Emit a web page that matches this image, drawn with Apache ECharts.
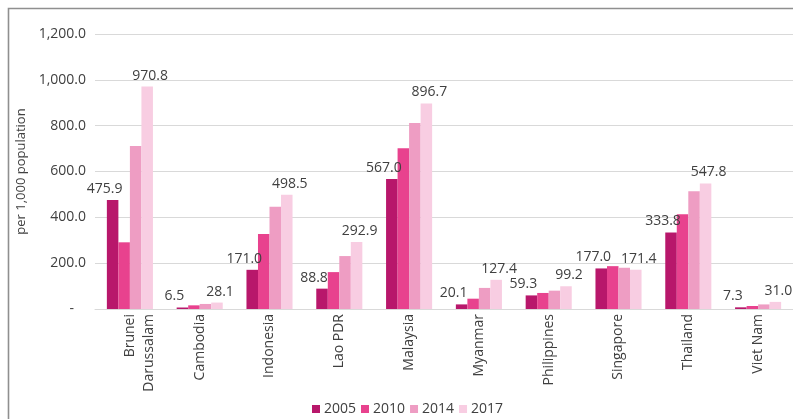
<!DOCTYPE html>
<html>
<head>
<meta charset="utf-8">
<title>Mobile subscriptions per 1,000 population</title>
<script src="https://cdn.jsdelivr.net/npm/echarts@6/dist/echarts.min.js"></script>
<style>
  html, body { margin: 0; padding: 0; background: #ffffff; }
  #chart { width: 793px; height: 419px; }
</style>
</head>
<body>
<div id="chart"></div>
<script>
// Countries along the x axis
const countries = ['Brunei Darussalam', 'Cambodia', 'Indonesia', 'Lao PDR', 'Malaysia',
                   'Myanmar', 'Philippines', 'Singapore', 'Thailand', 'Viet Nam'];

// Values per 1,000 population, one array per year
const years = ['2005', '2010', '2014', '2017'];
const v2005 = [475.9, 6.5, 171.0, 88.8, 567.0, 20.1, 59.3, 177.0, 333.8, 7.3];
const v2010 = [291, 16, 327, 161, 702, 45, 70, 187, 414, 13];
const v2014 = [711, 22, 446, 231, 812, 92, 80, 180, 514, 20];
const v2017 = [970.8, 28.1, 498.5, 292.9, 896.7, 127.4, 99.2, 171.4, 547.8, 31.0];

// Y axis ticks
const yMin = 0, yMax = 1200, yStep = 200;

const colors = ['#b8176b', '#e8428e', '#ee9dc3', '#f8cde2'];
const font = 'Open Sans';
const textColor = '#404040';

function fmtNumber(v) {
  return v.toLocaleString('en-US', { minimumFractionDigits: 1, maximumFractionDigits: 1 });
}

// Long category names wrap onto two lines; a leading blank line keeps the first line on the tick
function wrapCategory(name) {
  if (name.length > 12 && name.indexOf(' ') > 0) {
    return '\n' + name.replace(' ', '\n');
  }
  return name;
}

const valueSeries = [v2005, v2010, v2014, v2017];
const labelled = { 0: [-8, 0], 3: [3, 0] };

const series = valueSeries.map(function (vals, i) {
  const s = {
    name: years[i],
    type: 'bar',
    data: vals,
    barGap: '0%',
    barCategoryGap: '34%',
    itemStyle: { color: colors[i] },
    emphasis: { disabled: true }
  };
  if (labelled[i]) {
    s.label = {
      show: true,
      position: 'top',
      distance: 4,
      offset: labelled[i],
      fontFamily: font,
      fontSize: 14,
      color: textColor,
      formatter: function (p) { return fmtNumber(p.value); }
    };
  }
  return s;
});

const chart = echarts.init(document.getElementById('chart'), null, { renderer: 'canvas' });
chart.setOption({
  animation: false,
  color: colors,
  textStyle: { fontFamily: font },
  graphic: [{
    type: 'rect',
    left: 6, top: 6,
    shape: { x: 0, y: 0, width: 900, height: 500 },
    style: { fill: 'none', stroke: '#8f8f8f', lineWidth: 1.6 },
    silent: true,
    z: -10
  }],
  grid: { left: 95, right: 0, top: 34, bottom: 110 },
  legend: {
    data: years,
    left: 307,
    top: 397,
    icon: 'rect',
    itemWidth: 8,
    itemHeight: 8,
    itemGap: 5,
    textStyle: { fontFamily: font, fontSize: 14, color: textColor, padding: [0, 0, 0, -1] }
  },
  xAxis: {
    type: 'category',
    data: countries,
    axisLine: { lineStyle: { color: '#d9d9d9', width: 1 } },
    axisTick: { show: false },
    axisLabel: {
      interval: 0,
      rotate: 90,
      margin: 5,
      fontFamily: font,
      fontSize: 14,
      lineHeight: 19,
      color: textColor,
      formatter: wrapCategory
    }
  },
  yAxis: {
    type: 'value',
    min: yMin,
    max: yMax,
    interval: yStep,
    name: 'per 1,000 population',
    nameLocation: 'middle',
    nameGap: 64,
    nameRotate: 90,
    nameTextStyle: { fontFamily: font, fontSize: 13, color: textColor },
    axisLine: { show: false },
    axisTick: { show: false },
    splitLine: { lineStyle: { color: '#d9d9d9', width: 1 } },
    axisLabel: {
      margin: 9,
      fontFamily: font,
      fontSize: 14,
      color: textColor,
      formatter: function (v) { return v === 0 ? '{z|-}' : fmtNumber(v); },
      rich: { z: { fontFamily: font, fontSize: 14, color: textColor, padding: [0, 12, 0, 0] } }
    }
  },
  series: series
});
</script>
</body>
</html>
